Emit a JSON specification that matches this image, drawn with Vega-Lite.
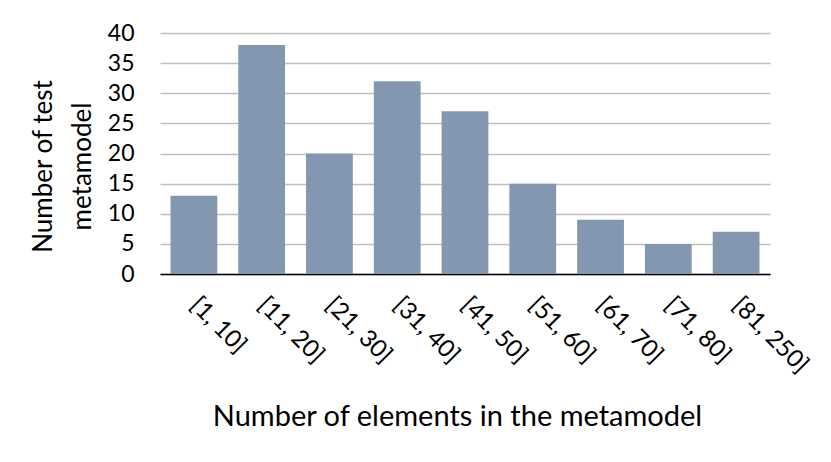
{
  "$schema": "https://vega.github.io/schema/vega-lite/v6.json",
  "width": 610,
  "height": 241,
  "autosize": {"type": "none"},
  "padding": {"left": 160, "top": 33, "right": 61, "bottom": 188},
  "background": "white",
  "config": {"view": {"stroke": null}, "font": "Lato"},
  "data": {"values": [
    {"range": "[1, 10]", "count": 13},
    {"range": "[11, 20]", "count": 38},
    {"range": "[21, 30]", "count": 20},
    {"range": "[31, 40]", "count": 32},
    {"range": "[41, 50]", "count": 27},
    {"range": "[51, 60]", "count": 15},
    {"range": "[61, 70]", "count": 9},
    {"range": "[71, 80]", "count": 5},
    {"range": "[81, 250]", "count": 7}
  ]},
  "mark": {"type": "bar", "color": "#8497B0"},
  "encoding": {
    "x": {
      "field": "range", "type": "nominal", "sort": null,
      "scale": {"paddingInner": 0.31, "paddingOuter": 0.155},
      "axis": {
        "title": "Number of elements in the metamodel",
        "titleFontSize": 29, "titleFontWeight": "normal", "titleColor": "black",
        "titleX": 297, "titleY": 142, "titleBaseline": "middle",
        "labelAngle": 45, "labelAlign": "left", "labelBaseline": "middle",
        "labelFontSize": 24, "labelColor": "black", "labelPadding": 27,
        "domainColor": "#000000", "domainWidth": 1.5,
        "ticks": false, "grid": false
      }
    },
    "y": {
      "field": "count", "type": "quantitative",
      "scale": {"domain": [0, 40]},
      "axis": {
        "values": [0, 5, 10, 15, 20, 25, 30, 35, 40],
        "title": ["Number of test", "metamodel"],
        "titleFontSize": 26, "titleFontWeight": "normal", "titleColor": "black",
        "titleLineHeight": 39, "titleAngle": -90,
        "titleX": -117, "titleY": 133, "titleBaseline": "middle", "titleAlign": "center",
        "labelFontSize": 23, "labelColor": "black", "labelPadding": 26,
        "domain": false, "ticks": false,
        "gridColor": "#BFBFBF", "gridWidth": 1.5
      }
    }
  }
}
